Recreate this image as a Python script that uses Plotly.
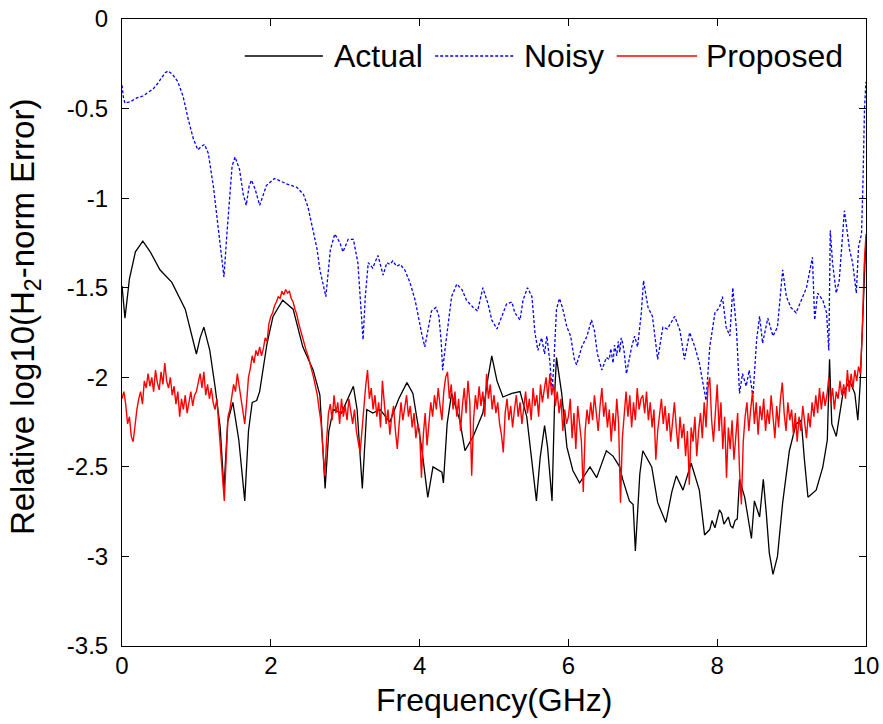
import numpy as np
import plotly.graph_objects as go

# ---------------- data ----------------
actual_x = [0.00, 0.04, 0.10, 0.18, 0.28, 0.38, 0.51, 0.58, 0.67, 0.85, 1.00, 1.05, 1.10, 1.18, 1.25, 1.32,
            1.37, 1.42, 1.49, 1.57, 1.65, 1.70, 1.75, 1.81, 1.85, 1.95, 2.03, 2.16, 2.30, 2.43, 2.57, 2.66,
            2.73, 2.78, 2.84, 2.95, 3.03, 3.11, 3.16, 3.23, 3.29, 3.37, 3.47, 3.60, 3.72, 3.83, 3.91, 4.03,
            4.11, 4.18, 4.30, 4.32, 4.37, 4.43, 4.54, 4.61, 4.72, 4.85, 4.92, 4.97, 5.04, 5.12, 5.24, 5.35,
            5.44, 5.51, 5.57, 5.62, 5.68, 5.72, 5.78, 5.82, 5.84, 5.91, 5.98, 6.06, 6.15, 6.29, 6.38, 6.51,
            6.60, 6.69, 6.73, 6.82, 6.87, 6.90, 6.96, 7.00, 7.12, 7.20, 7.31, 7.39, 7.45, 7.54, 7.65, 7.76,
            7.83, 7.90, 7.93, 7.97, 8.03, 8.06, 8.09, 8.12, 8.15, 8.18, 8.21, 8.24, 8.27, 8.30, 8.37, 8.46,
            8.50, 8.57, 8.62, 8.66, 8.70, 8.75, 8.81, 8.88, 8.97, 9.06, 9.13, 9.17, 9.22, 9.33, 9.42, 9.48,
            9.51, 9.54, 9.60, 9.69, 9.78, 9.85, 9.89, 9.92, 9.96, 10.00]
actual_y = [-1.49, -1.67, -1.45, -1.30, -1.24, -1.30, -1.40, -1.43, -1.47, -1.62, -1.87, -1.78, -1.72, -1.85, -2.05, -2.28,
            -2.63, -2.25, -2.14, -2.35, -2.69, -2.30, -2.14, -2.13, -2.08, -1.81, -1.66, -1.57, -1.62, -1.83, -1.96, -2.10,
            -2.62, -2.30, -2.18, -2.20, -2.12, -2.05, -2.18, -2.62, -2.18, -2.20, -2.18, -2.25, -2.12, -2.03, -2.09, -2.40,
            -2.67, -2.50, -2.53, -2.59, -2.26, -2.09, -2.24, -2.41, -2.33, -2.20, -2.00, -1.88, -2.02, -2.11, -2.09, -2.08,
            -2.22, -2.46, -2.69, -2.45, -2.27, -2.39, -2.69, -2.05, -1.89, -2.09, -2.39, -2.52, -2.59, -2.50, -2.56, -2.41,
            -2.44, -2.50, -2.57, -2.69, -2.71, -2.97, -2.54, -2.41, -2.50, -2.70, -2.81, -2.64, -2.55, -2.63, -2.48, -2.63,
            -2.88, -2.85, -2.80, -2.84, -2.74, -2.76, -2.82, -2.80, -2.78, -2.83, -2.84, -2.80, -2.79, -2.57, -2.67, -2.90,
            -2.69, -2.78, -2.57, -2.76, -2.98, -3.10, -3.00, -2.70, -2.41, -2.26, -2.24, -2.45, -2.67, -2.63, -2.50, -2.35,
            -1.90, -2.26, -2.33, -2.09, -2.02, -2.09, -2.24, -2.05, -1.64, -1.22]

noisy_x = [0.00, 0.02, 0.04, 0.12, 0.20, 0.28, 0.35, 0.42, 0.48, 0.53, 0.58, 0.62, 0.68, 0.75, 0.82, 0.89,
           0.96, 1.02, 1.07, 1.11, 1.16, 1.23, 1.29, 1.34, 1.37, 1.41, 1.45, 1.48, 1.52, 1.58, 1.63, 1.67,
           1.71, 1.74, 1.79, 1.85, 1.90, 1.94, 2.05, 2.21, 2.35, 2.44, 2.50, 2.57, 2.62, 2.66, 2.74, 2.80,
           2.86, 2.93, 2.97, 3.04, 3.11, 3.17, 3.21, 3.24, 3.27, 3.31, 3.37, 3.44, 3.51, 3.56, 3.60, 3.64,
           3.69, 3.74, 3.80, 3.87, 3.94, 3.98, 4.03, 4.07, 4.11, 4.16, 4.22, 4.26, 4.29, 4.31, 4.34, 4.37,
           4.43, 4.50, 4.57, 4.63, 4.72, 4.78, 4.85, 4.92, 4.97, 5.04, 5.10, 5.17, 5.24, 5.28, 5.35, 5.39,
           5.45, 5.51, 5.55, 5.59, 5.64, 5.68, 5.71, 5.75, 5.78, 5.80, 5.84, 5.88, 5.92, 5.98, 6.03, 6.08,
           6.11, 6.18, 6.25, 6.31, 6.35, 6.39, 6.45, 6.51, 6.55, 6.57, 6.60, 6.62, 6.65, 6.67, 6.69, 6.71,
           6.73, 6.75, 6.78, 6.85, 6.89, 6.93, 6.98, 7.01, 7.07, 7.13, 7.20, 7.27, 7.33, 7.43, 7.50, 7.56,
           7.63, 7.70, 7.76, 7.80, 7.85, 7.90, 7.97, 8.03, 8.07, 8.12, 8.17, 8.21, 8.26, 8.30, 8.34, 8.39,
           8.43, 8.48, 8.53, 8.57, 8.61, 8.68, 8.75, 8.81, 8.88, 8.93, 8.99, 9.06, 9.13, 9.20, 9.28, 9.31,
           9.35, 9.42, 9.47, 9.50, 9.52, 9.55, 9.60, 9.64, 9.71, 9.78, 9.82, 9.87, 9.90, 9.94, 9.96, 9.98,
           10.00]
noisy_y = [-0.37, -0.44, -0.47, -0.46, -0.44, -0.43, -0.41, -0.39, -0.36, -0.33, -0.30, -0.29, -0.31, -0.35, -0.43, -0.56,
           -0.67, -0.73, -0.71, -0.70, -0.75, -0.94, -1.16, -1.35, -1.44, -1.20, -0.95, -0.82, -0.77, -0.84, -0.98, -1.04,
           -0.93, -0.90, -0.95, -1.04, -0.98, -0.93, -0.89, -0.92, -0.94, -0.98, -1.05, -1.18, -1.28, -1.40, -1.55, -1.29,
           -1.20, -1.25, -1.30, -1.23, -1.23, -1.36, -1.60, -1.79, -1.55, -1.36, -1.39, -1.32, -1.43, -1.36, -1.37, -1.35,
           -1.38, -1.37, -1.40, -1.47, -1.57, -1.66, -1.76, -1.83, -1.75, -1.63, -1.61, -1.66, -1.80, -1.96, -1.85, -1.74,
           -1.55, -1.48, -1.51, -1.57, -1.61, -1.63, -1.50, -1.59, -1.68, -1.73, -1.66, -1.59, -1.58, -1.64, -1.68, -1.57,
           -1.50, -1.55, -1.75, -1.85, -1.78, -1.87, -1.77, -1.91, -2.07, -1.96, -1.62, -1.56, -1.61, -1.72, -1.77, -1.90,
           -1.93, -1.83, -1.77, -1.68, -1.74, -1.87, -1.96, -1.89, -1.90, -1.84, -1.92, -1.82, -1.88, -1.80, -1.86, -1.78,
           -1.81, -1.86, -1.98, -1.83, -1.77, -1.83, -1.64, -1.46, -1.61, -1.66, -1.90, -1.72, -1.73, -1.66, -1.74, -1.90,
           -1.75, -1.83, -1.92, -2.02, -2.13, -1.83, -1.64, -1.61, -1.55, -1.72, -1.77, -1.50, -1.74, -2.09, -1.98, -2.05,
           -1.96, -2.11, -1.79, -1.66, -1.81, -1.67, -1.77, -1.72, -1.40, -1.55, -1.61, -1.64, -1.57, -1.50, -1.33, -1.68,
           -1.53, -1.57, -1.64, -1.85, -1.18, -1.36, -1.53, -1.46, -1.07, -1.29, -1.36, -1.53, -1.27, -1.20, -0.90, -0.50,
           -0.35]

# Proposed: sampled every 0.025 GHz from 0 to 10 GHz
proposed_y = [
    # 0 - 1 GHz
    -2.12, -2.08, -2.15, -2.26, -2.22, -2.33, -2.36, -2.25, -2.18, -2.12, -2.08, -2.15, -2.02, -2.06, -1.98, -2.05,
    -2.00, -2.08, -1.96, -2.03, -2.07, -1.97, -2.04, -1.92, -2.02, -2.06, -2.00, -2.10, -2.05, -2.15, -2.08, -2.22,
    -2.12, -2.18, -2.10, -2.20, -2.14, -2.08, -2.16, -2.10,
    # 1 - 2 GHz
    -2.08, -2.02, -1.98, -2.06, -1.97, -2.10, -2.04, -2.12, -2.06, -2.14, -2.18, -2.12, -2.28, -2.38, -2.55, -2.69,
    -2.40, -2.22, -2.18, -2.10, -2.04, -2.08, -1.98, -2.05, -2.12, -2.20, -2.26, -2.14, -2.00, -1.95, -1.88, -1.92,
    -1.85, -1.88, -1.83, -1.88, -1.84, -1.78, -1.80, -1.70,
    # 2 - 3 GHz
    -1.66, -1.64, -1.60, -1.58, -1.55, -1.56, -1.52, -1.54, -1.51, -1.53, -1.52, -1.56, -1.58, -1.62, -1.65, -1.70,
    -1.74, -1.77, -1.82, -1.85, -1.88, -1.93, -1.96, -2.00, -2.05, -2.10, -2.18, -2.25, -2.40, -2.55, -2.35, -2.20,
    -2.15, -2.24, -2.10, -2.20, -2.14, -2.26, -2.12, -2.22,
    # 3 - 4 GHz
    -2.16, -2.24, -2.12, -2.20, -2.26, -2.18, -2.30, -2.36, -2.42, -2.30, -2.15, -2.05, -1.96, -2.12, -2.06, -2.18,
    -2.10, -2.22, -2.14, -2.28, -2.02, -2.12, -2.26, -2.18, -2.32, -2.22, -2.16, -2.30, -2.40, -2.26, -2.14, -2.24,
    -2.18, -2.10, -2.22, -2.16, -2.28, -2.20, -2.34, -2.26,
    # 4 - 5 GHz
    -2.30, -2.56, -2.32, -2.20, -2.38, -2.26, -2.14, -2.22, -2.10, -2.18, -2.06, -2.16, -2.24, -2.08, -2.00, -1.97,
    -2.12, -2.04, -2.18, -2.08, -2.22, -2.12, -2.30, -2.16, -2.06, -2.20, -2.02, -2.14, -2.55, -2.24, -2.10, -2.18,
    -2.05, -2.16, -2.08, -2.22, -1.98, -2.12, -2.04, -2.18,
    # 5 - 6 GHz
    -2.10, -2.20, -2.14, -2.26, -2.32, -2.42, -2.20, -2.12, -2.24, -2.16, -2.28, -2.18, -2.10, -2.22, -2.14, -2.26,
    -2.18, -2.08, -2.20, -2.12, -2.24, -2.06, -2.16, -2.10, -2.22, -2.04, -2.14, -2.08, -2.00, -2.12, -1.98, -2.10,
    -2.04, -2.16, -2.08, -2.20, -2.12, -2.30, -2.18, -2.26,
    # 6 - 7 GHz
    -2.22, -2.12, -2.34, -2.20, -2.40, -2.16, -2.28, -2.36, -2.64, -2.30, -2.18, -2.26, -2.14, -2.24, -2.10, -2.20,
    -2.30, -2.16, -2.06, -2.22, -2.14, -2.28, -2.18, -2.36, -2.20, -2.30, -2.12, -2.26, -2.70, -2.34, -2.18, -2.08,
    -2.22, -2.10, -2.28, -2.14, -2.24, -2.06, -2.18, -2.12,
    # 7 - 8 GHz
    -2.10, -2.20, -2.08, -2.24, -2.14, -2.28, -2.18, -2.46, -2.30, -2.22, -2.12, -2.26, -2.16, -2.30, -2.20, -2.36,
    -2.24, -2.14, -2.28, -2.40, -2.22, -2.34, -2.26, -2.44, -2.30, -2.60, -2.28, -2.36, -2.22, -2.44, -2.30, -2.20,
    -2.34, -2.14, -2.28, -2.06, -2.00, -2.24, -2.36, -2.18,
    # 8 - 9 GHz
    -2.04, -2.30, -2.14, -2.40, -2.22, -2.56, -2.28, -2.40, -2.24, -2.46, -2.30, -2.20, -2.52, -2.71, -2.36, -2.22,
    -2.14, -2.30, -2.18, -2.08, -2.26, -2.14, -2.32, -2.16, -2.24, -2.12, -2.30, -2.18, -2.26, -2.10, -2.22, -2.34,
    -2.16, -2.28, -2.12, -2.03, -2.20, -2.30, -2.14, -2.24,
    # 9 - 10 GHz
    -2.18, -2.32, -2.20, -2.36, -2.22, -2.30, -2.16, -2.26, -2.34, -2.20, -2.28, -2.14, -2.22, -2.10, -2.20, -2.06,
    -2.18, -2.08, -2.16, -2.10, -2.00, -2.14, -2.06, -2.18, -2.08, -2.12, -2.02, -2.10, -2.04, -2.12, -1.96, -2.08,
    -1.98, -2.06, -1.96, -2.02, -1.94, -1.98, -1.75, -1.38, -1.20,
]
proposed_x = np.linspace(0.0, 10.0, len(proposed_y))

legend_names = ["Actual", "Noisy", "Proposed"]
x_ticks = [0, 2, 4, 6, 8, 10]
y_ticks = [0, -0.5, -1, -1.5, -2, -2.5, -3, -3.5]
y_tick_text = ["0", "-0.5", "-1", "-1.5", "-2", "-2.5", "-3", "-3.5"]
x_title = "Frequency(GHz)"
y_title = "Relative log10(H<sub>2</sub>-norm Error)"

# ---------------- figure ----------------
FONT = "Arial, Liberation Sans, sans-serif"
fig = go.Figure()
fig.add_trace(go.Scatter(x=actual_x, y=actual_y, mode="lines", name=legend_names[0],
                         line=dict(color="black", width=1.3)))
fig.add_trace(go.Scatter(x=noisy_x, y=noisy_y, mode="lines", name=legend_names[1],
                         line=dict(color="#0000ff", width=1.3, dash="3px,2px")))
fig.add_trace(go.Scatter(x=proposed_x, y=proposed_y, mode="lines", name=legend_names[2],
                         line=dict(color="#ff0000", width=1.4)))

# manual legend (MATLAB-like long line samples)
leg_y = 0.941
leg_items = [
    (0.165, 0.270, 0.282, "black", "solid"),
    (0.421, 0.527, 0.537, "#0000ff", "3px,2px"),
    (0.665, 0.773, 0.782, "#ff0000", "solid"),
]
for (x0, x1, xt, col, dash), name in zip(leg_items, legend_names):
    fig.add_shape(type="line", xref="paper", yref="paper", x0=x0, x1=x1, y0=leg_y, y1=leg_y,
                  line=dict(color=col, width=1.3, dash=dash))
    fig.add_annotation(xref="paper", yref="paper", x=xt, y=leg_y, text=name, showarrow=False,
                       xanchor="left", yanchor="middle", font=dict(size=32, color="black", family=FONT))

# axis titles placed as annotations for exact positioning
fig.add_annotation(xref="paper", yref="paper", x=0.5, y=-0.0855, text=x_title, showarrow=False,
                   xanchor="center", yanchor="middle", font=dict(size=32, color="black", family=FONT))
fig.add_annotation(xref="paper", yref="paper", x=-0.1295, y=0.524, text=y_title, showarrow=False,
                   textangle=-90, xanchor="center", yanchor="middle",
                   font=dict(size=33, color="black", family=FONT))

fig.update_layout(
    width=883, height=724,
    margin=dict(l=122, r=17, t=19, b=78),
    paper_bgcolor="white", plot_bgcolor="white",
    showlegend=False,
    font=dict(family=FONT, color="black"),
)
fig.update_xaxes(
    range=[0, 10], tickvals=x_ticks, ticks="inside", ticklen=7, tickcolor="black",
    showline=True, linecolor="black", linewidth=1, mirror="allticks", showgrid=False, zeroline=False,
    tickfont=dict(size=24, family=FONT), ticklabelstandoff=-2,
    automargin=False,
)
fig.update_yaxes(
    range=[-3.5, 0], tickvals=y_ticks, ticktext=y_tick_text, ticks="inside", ticklen=7, tickcolor="black",
    showline=True, linecolor="black", linewidth=1, mirror="allticks", showgrid=False, zeroline=False,
    tickfont=dict(size=24, family=FONT), ticklabelstandoff=8,
    automargin=False,
)

fig.write_html("out.html")
